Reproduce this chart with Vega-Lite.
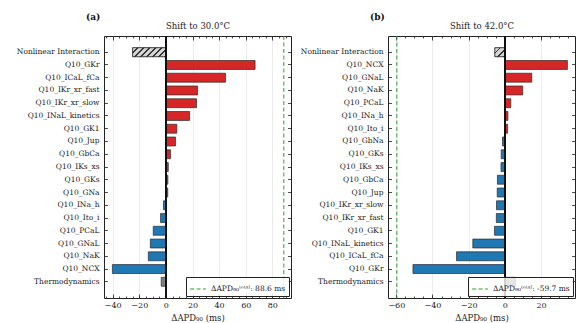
{
  "$schema": "https://vega.github.io/schema/vega-lite/v6.json",
  "padding": {"left": 15, "top": 12, "right": 4, "bottom": 2},
  "background": "white",
  "config": {
    "font": "DejaVu Serif",
    "view": {"stroke": "#222", "strokeWidth": 1},
    "axis": {"domain": false, "tickColor": "#222", "tickWidth": 0.8, "labelFont": "DejaVu Serif", "labelColor": "#222", "labelFontSize": 8, "titleFont": "DejaVu Serif", "titleFontWeight": "normal", "titleFontSize": 8.5, "titleColor": "#222"},
    "legend": {"labelFont": "DejaVu Serif"},
    "title": {"font": "DejaVu Serif"}
  },
  "datasets": {
    "a": [
      {"param": "Nonlinear Interaction", "value": -25.0, "kind": "nl"},
      {"param": "Q10_GKr", "value": 67.0, "kind": "pos"},
      {"param": "Q10_ICaL_fCa", "value": 44.8, "kind": "pos"},
      {"param": "Q10_IKr_xr_fast", "value": 23.8, "kind": "pos"},
      {"param": "Q10_IKr_xr_slow", "value": 23.0, "kind": "pos"},
      {"param": "Q10_INaL_kinetics", "value": 17.8, "kind": "pos"},
      {"param": "Q10_GK1", "value": 8.2, "kind": "pos"},
      {"param": "Q10_Jup", "value": 7.2, "kind": "pos"},
      {"param": "Q10_GbCa", "value": 3.5, "kind": "pos"},
      {"param": "Q10_IKs_xs", "value": 1.8, "kind": "pos"},
      {"param": "Q10_GKs", "value": 1.5, "kind": "pos"},
      {"param": "Q10_GNa", "value": 1.4, "kind": "pos"},
      {"param": "Q10_INa_h", "value": -1.8, "kind": "neg"},
      {"param": "Q10_Ito_i", "value": -4.0, "kind": "neg"},
      {"param": "Q10_PCaL", "value": -9.5, "kind": "neg"},
      {"param": "Q10_GNaL", "value": -11.7, "kind": "neg"},
      {"param": "Q10_NaK", "value": -13.2, "kind": "neg"},
      {"param": "Q10_NCX", "value": -40.2, "kind": "neg"},
      {"param": "Thermodynamics", "value": -3.5, "kind": "thermo"}
    ],
    "b": [
      {"param": "Nonlinear Interaction", "value": -5.5, "kind": "nl"},
      {"param": "Q10_NCX", "value": 34.6, "kind": "pos"},
      {"param": "Q10_GNaL", "value": 14.9, "kind": "pos"},
      {"param": "Q10_NaK", "value": 9.9, "kind": "pos"},
      {"param": "Q10_PCaL", "value": 3.3, "kind": "pos"},
      {"param": "Q10_INa_h", "value": 1.7, "kind": "pos"},
      {"param": "Q10_Ito_i", "value": 1.5, "kind": "pos"},
      {"param": "Q10_GbNa", "value": -1.3, "kind": "neg"},
      {"param": "Q10_GKs", "value": -2.0, "kind": "neg"},
      {"param": "Q10_IKs_xs", "value": -2.1, "kind": "neg"},
      {"param": "Q10_GbCa", "value": -4.1, "kind": "neg"},
      {"param": "Q10_Jup", "value": -4.2, "kind": "neg"},
      {"param": "Q10_IKr_xr_slow", "value": -4.6, "kind": "neg"},
      {"param": "Q10_IKr_xr_fast", "value": -4.7, "kind": "neg"},
      {"param": "Q10_GK1", "value": -5.7, "kind": "neg"},
      {"param": "Q10_INaL_kinetics", "value": -17.7, "kind": "neg"},
      {"param": "Q10_ICaL_fCa", "value": -26.7, "kind": "neg"},
      {"param": "Q10_GKr", "value": -50.8, "kind": "neg"},
      {"param": "Thermodynamics", "value": 5.9, "kind": "thermo"}
    ],
    "ta": [{"total": 88.6, "lab": "ΔAPD₉₀ᵗᵒᵗᵃˡ: 88.6 ms"}],
    "tb": [{"total": -59.7, "lab": "ΔAPD₉₀ᵗᵒᵗᵃˡ: -59.7 ms"}]
  },
  "bounds": "flush",
  "spacing": 97,
  "resolve": {"scale": {"x": "independent", "y": "independent", "fill": "independent", "stroke": "independent"}, "legend": {"stroke": "independent"}},
  "hconcat": [
    {
      "title": {"text": "(a)", "anchor": "start", "frame": "group", "fontWeight": "bold", "fontSize": 9, "color": "#111", "dx": -18, "offset": 0},
      "width": 187,
      "height": 262,
      "data": {"name": "a"},
      "resolve": {"axis": {"x": "independent", "y": "independent"}},
      "layer": [
        {
          "mark": {"type": "bar", "stroke": "#2a2a2a", "strokeWidth": 0.7},
          "encoding": {
            "y": {"field": "param", "type": "nominal", "sort": null, "scale": {"paddingInner": 0.3, "paddingOuter": 0.92}, "axis": {"title": null, "orient": "left", "tickSize": -3.5, "labelPadding": 8.5, "labelFontSize": 7.5, "labelLimit": 200, "bandPosition": 0.5}},
            "x": {"field": "value", "type": "quantitative", "scale": {"domain": [-46.5, 94], "nice": false, "zero": false}, "axis": {"orient": "bottom", "title": "ΔAPD₉₀ (ms)", "values": [-40, -20, 0, 20, 40, 60, 80], "tickSize": -4, "labelPadding": 7, "grid": true, "gridColor": "#e4e4e4", "gridWidth": 0.7, "titlePadding": 4}},
            "fill": {"field": "kind", "type": "nominal", "scale": {"domain": ["pos", "neg", "thermo", "nl"], "range": ["#d62728", "#1f77b4", "#808080", "#d4d4d4"]}, "legend": null}
          }
        },
        {
          "transform": [{"filter": {"field": "kind", "equal": "nl"}}],
          "mark": {"type": "bar", "stroke": "#2a2a2a", "strokeWidth": 0.7, "fill": {"gradient": "linear", "x1": 0, "y1": 0, "x2": 1.184, "y2": 0.317, "stops": [
            {"offset": 0, "color": "#d4d4d4"}, {"offset": 0.1, "color": "#d4d4d4"}, {"offset": 0.1, "color": "#333"}, {"offset": 0.1429, "color": "#333"},
            {"offset": 0.1429, "color": "#d4d4d4"}, {"offset": 0.2429, "color": "#d4d4d4"}, {"offset": 0.2429, "color": "#333"}, {"offset": 0.2857, "color": "#333"},
            {"offset": 0.2857, "color": "#d4d4d4"}, {"offset": 0.3857, "color": "#d4d4d4"}, {"offset": 0.3857, "color": "#333"}, {"offset": 0.4286, "color": "#333"},
            {"offset": 0.4286, "color": "#d4d4d4"}, {"offset": 0.5286, "color": "#d4d4d4"}, {"offset": 0.5286, "color": "#333"}, {"offset": 0.5714, "color": "#333"},
            {"offset": 0.5714, "color": "#d4d4d4"}, {"offset": 0.6714, "color": "#d4d4d4"}, {"offset": 0.6714, "color": "#333"}, {"offset": 0.7143, "color": "#333"},
            {"offset": 0.7143, "color": "#d4d4d4"}, {"offset": 0.8143, "color": "#d4d4d4"}, {"offset": 0.8143, "color": "#333"}, {"offset": 0.8571, "color": "#333"},
            {"offset": 0.8571, "color": "#d4d4d4"}, {"offset": 0.9571, "color": "#d4d4d4"}, {"offset": 0.9571, "color": "#333"}, {"offset": 1, "color": "#333"}
          ]}},
          "encoding": {
            "y": {"field": "param", "type": "nominal", "sort": null, "axis": null},
            "x": {"field": "value", "type": "quantitative", "scale": {"domain": [-46.5, 94], "nice": false, "zero": false}, "axis": null}
          }
        },
        {
          "mark": {"type": "rule", "color": "#111", "strokeWidth": 1},
          "encoding": {
            "x": {"datum": 0, "type": "quantitative", "scale": {"domain": [-46.5, 94], "nice": false, "zero": false}, "axis": {"orient": "top", "title": "Shift to 30.0°C", "labels": false, "values": [-40, -20, 0, 20, 40, 60, 80], "tickSize": -4, "grid": false, "titlePadding": 5}}
          }
        },
        {
          "data": {"name": "ta"},
          "mark": {"type": "rule", "strokeDash": [4, 2.5], "strokeWidth": 1},
          "encoding": {
            "x": {"field": "total", "type": "quantitative", "scale": {"domain": [-46.5, 94], "nice": false, "zero": false}, "axis": {"orient": "bottom", "title": null, "labels": false, "values": [-45, -40, -35, -30, -25, -20, -15, -10, -5, 0, 5, 10, 15, 20, 25, 30, 35, 40, 45, 50, 55, 60, 65, 70, 75, 80, 85, 90], "tickSize": -2, "grid": false}},
            "stroke": {"field": "lab", "type": "nominal", "scale": {"range": ["#2ca02c"]}, "legend": {"title": null, "orient": "bottom-right", "offset": 2, "symbolType": "stroke", "symbolDash": [4, 2.5], "symbolStrokeWidth": 1.2, "symbolSize": 250, "strokeColor": "#222", "fillColor": "rgba(255,255,255,0.8)", "padding": 3, "labelFontSize": 7.5, "labelColor": "#222", "cornerRadius": 0}}
          }
        },
        {
          "mark": {"type": "text"},
          "encoding": {
            "text": {"value": ""},
            "y": {"field": "param", "type": "nominal", "sort": null, "axis": {"title": null, "orient": "right", "labels": false, "tickSize": -3.5, "bandPosition": 0.5}},
            "x": {"datum": 0, "type": "quantitative", "scale": {"domain": [-46.5, 94], "nice": false, "zero": false}, "axis": {"orient": "top", "title": null, "labels": false, "values": [-45, -40, -35, -30, -25, -20, -15, -10, -5, 0, 5, 10, 15, 20, 25, 30, 35, 40, 45, 50, 55, 60, 65, 70, 75, 80, 85, 90], "tickSize": -2, "grid": false}}
          }
        }
      ]
    },
    {
      "title": {"text": "(b)", "anchor": "start", "frame": "group", "fontWeight": "bold", "fontSize": 9, "color": "#111", "dx": -18, "offset": 0},
      "width": 187,
      "height": 262,
      "data": {"name": "b"},
      "resolve": {"axis": {"x": "independent", "y": "independent"}},
      "layer": [
        {
          "mark": {"type": "bar", "stroke": "#2a2a2a", "strokeWidth": 0.7},
          "encoding": {
            "y": {"field": "param", "type": "nominal", "sort": null, "scale": {"paddingInner": 0.3, "paddingOuter": 0.92}, "axis": {"title": null, "orient": "left", "tickSize": -3.5, "labelPadding": 8.5, "labelFontSize": 7.5, "labelLimit": 200, "bandPosition": 0.5}},
            "x": {"field": "value", "type": "quantitative", "scale": {"domain": [-64.6, 38.8], "nice": false, "zero": false}, "axis": {"orient": "bottom", "title": "ΔAPD₉₀ (ms)", "values": [-60, -40, -20, 0, 20], "tickSize": -4, "labelPadding": 7, "grid": true, "gridColor": "#e4e4e4", "gridWidth": 0.7, "titlePadding": 4}},
            "fill": {"field": "kind", "type": "nominal", "scale": {"domain": ["pos", "neg", "thermo", "nl"], "range": ["#d62728", "#1f77b4", "#808080", "#d4d4d4"]}, "legend": null}
          }
        },
        {
          "transform": [{"filter": {"field": "kind", "equal": "nl"}}],
          "mark": {"type": "bar", "stroke": "#2a2a2a", "strokeWidth": 0.7, "fill": {"gradient": "linear", "x1": 0, "y1": 0, "x2": 1.05, "y2": 0.945, "stops": [
            {"offset": 0, "color": "#d4d4d4"}, {"offset": 0.2333, "color": "#d4d4d4"}, {"offset": 0.2333, "color": "#333"}, {"offset": 0.3333, "color": "#333"},
            {"offset": 0.3333, "color": "#d4d4d4"}, {"offset": 0.5667, "color": "#d4d4d4"}, {"offset": 0.5667, "color": "#333"}, {"offset": 0.6667, "color": "#333"},
            {"offset": 0.6667, "color": "#d4d4d4"}, {"offset": 0.9, "color": "#d4d4d4"}, {"offset": 0.9, "color": "#333"}, {"offset": 1, "color": "#333"}
          ]}},
          "encoding": {
            "y": {"field": "param", "type": "nominal", "sort": null, "axis": null},
            "x": {"field": "value", "type": "quantitative", "scale": {"domain": [-64.6, 38.8], "nice": false, "zero": false}, "axis": null}
          }
        },
        {
          "mark": {"type": "rule", "color": "#111", "strokeWidth": 1},
          "encoding": {
            "x": {"datum": 0, "type": "quantitative", "scale": {"domain": [-64.6, 38.8], "nice": false, "zero": false}, "axis": {"orient": "top", "title": "Shift to 42.0°C", "labels": false, "values": [-60, -40, -20, 0, 20], "tickSize": -4, "grid": false, "titlePadding": 5}}
          }
        },
        {
          "data": {"name": "tb"},
          "mark": {"type": "rule", "strokeDash": [4, 2.5], "strokeWidth": 1},
          "encoding": {
            "x": {"field": "total", "type": "quantitative", "scale": {"domain": [-64.6, 38.8], "nice": false, "zero": false}, "axis": {"orient": "bottom", "title": null, "labels": false, "values": [-60, -55, -50, -45, -40, -35, -30, -25, -20, -15, -10, -5, 0, 5, 10, 15, 20, 25, 30, 35], "tickSize": -2, "grid": false}},
            "stroke": {"field": "lab", "type": "nominal", "scale": {"range": ["#2ca02c"]}, "legend": {"title": null, "orient": "bottom-right", "offset": 2, "symbolType": "stroke", "symbolDash": [4, 2.5], "symbolStrokeWidth": 1.2, "symbolSize": 250, "strokeColor": "#222", "fillColor": "rgba(255,255,255,0.8)", "padding": 3, "labelFontSize": 7.5, "labelColor": "#222", "cornerRadius": 0}}
          }
        },
        {
          "mark": {"type": "text"},
          "encoding": {
            "text": {"value": ""},
            "y": {"field": "param", "type": "nominal", "sort": null, "axis": {"title": null, "orient": "right", "labels": false, "tickSize": -3.5, "bandPosition": 0.5}},
            "x": {"datum": 0, "type": "quantitative", "scale": {"domain": [-64.6, 38.8], "nice": false, "zero": false}, "axis": {"orient": "top", "title": null, "labels": false, "values": [-60, -55, -50, -45, -40, -35, -30, -25, -20, -15, -10, -5, 0, 5, 10, 15, 20, 25, 30, 35], "tickSize": -2, "grid": false}}
          }
        }
      ]
    }
  ]
}
